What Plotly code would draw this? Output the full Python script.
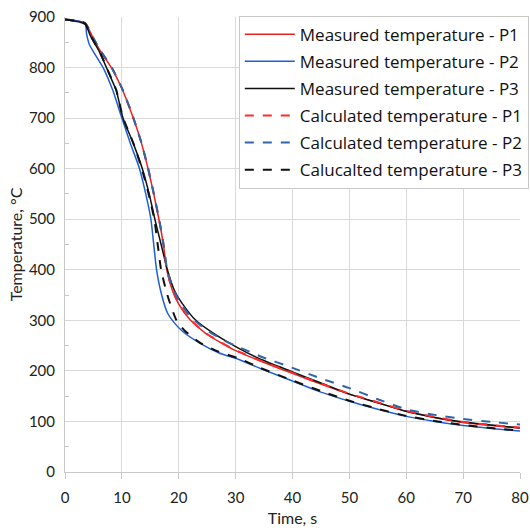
import plotly.graph_objects as go

# Measured temperature - P1
t_m1 = [0, 3.5, 5, 6.1, 8.3, 10.1, 12, 13.4, 14.6, 15.6, 16.6, 17.3, 17.9, 18.8, 20, 22, 25, 28, 30, 34, 40, 45, 50, 55, 60, 65, 70, 75, 80]
T_m1 = [895, 888, 857, 835, 797, 756, 700, 652, 600, 550, 495, 450, 400, 362, 332, 301, 272, 252, 240, 221, 195, 174, 154, 137, 120, 108, 98, 92, 87]
# Measured temperature - P2
t_m2 = [0, 3.5, 3.8, 4.3, 5.5, 6.7, 8.4, 10, 11.5, 13.1, 14.2, 15.1, 15.6, 16.1, 17, 18, 19.3, 20.7, 23.7, 27, 30.7, 34.3, 40, 45, 50, 55, 60, 65, 70, 75, 80]
T_m2 = [895, 888, 866, 845, 822, 800, 755, 700, 650, 600, 550, 500, 450, 400, 350, 315, 294, 278, 255, 236, 222, 205, 180, 158, 140, 124, 110, 100, 92, 86, 81]
# Measured temperature - P3
t_m3 = [0, 3.5, 4.5, 6.1, 7.9, 9, 10.2, 12, 13.6, 14.8, 15.8, 16.9, 18, 19.2, 20.5, 23, 26, 30, 34, 40, 45, 50, 55, 60, 65, 70, 75, 80]
T_m3 = [895, 886, 862, 830, 784, 755, 700, 650, 600, 550, 500, 450, 400, 360, 335, 300, 275, 248, 225, 198, 176, 154, 137, 120, 108, 99, 93, 87]
# Calculated temperature - P1
t_c1 = [0, 3.5, 5, 6.1, 8.3, 10.1, 12, 13.4, 14.6, 15.6, 16.6, 17.3, 17.9, 18.8, 20, 22, 25, 28, 30, 34, 40, 45, 50, 55, 60, 65, 70, 75, 80]
T_c1 = [895, 888, 858, 836, 798, 757, 701, 653, 601, 551, 496, 451, 401, 363, 333, 302, 273, 253, 241, 222, 196, 175, 155, 138, 121, 109, 99, 93, 88]
# Calculated temperature - P2
t_c2 = [0, 3.5, 5, 6.1, 8.3, 10.1, 12, 13.4, 14.6, 15.6, 16.6, 17.3, 17.9, 18.8, 20, 22, 25, 28, 30, 34.3, 40, 45, 50, 55, 60, 65, 70, 75, 80]
T_c2 = [895, 888, 858, 836, 798, 757, 701, 652, 601, 551, 497, 452, 405, 368, 340, 308, 280, 260, 250, 229, 206, 185, 166, 144, 124, 113, 105, 99, 94]
# Calucalted temperature - P3
t_c3 = [0, 3.5, 4.5, 6.1, 7.9, 9, 10.2, 12, 13.5, 14.7, 15.7, 16.3, 16.9, 18, 19.6, 21, 23.7, 27, 30.7, 34.3, 40, 45, 50, 55, 60, 65, 70, 75, 80]
T_c3 = [895, 887, 863, 831, 785, 756, 701, 651, 600, 550, 500, 450, 400, 350, 300, 280, 256, 238, 224, 206, 181, 160, 141, 125, 111, 101, 93, 87, 82]

names = ["Measured temperature - P1", "Measured temperature - P2", "Measured temperature - P3",
         "Calculated temperature - P1", "Calculated temperature - P2", "Calucalted temperature - P3"]

FONT = "Lato"
fig = go.Figure()
series = [
    (t_m1, T_m1, names[0], "#e8201f", "solid", 1.5),
    (t_m2, T_m2, names[1], "#1f5fd6", "solid", 1.5),
    (t_m3, T_m3, names[2], "#111111", "solid", 1.5),
    (t_c1, T_c1, names[3], "#ff2a2a", "dash", 2),
    (t_c2, T_c2, names[4], "#2f66a8", "dash", 2),
    (t_c3, T_c3, names[5], "#111111", "dash", 2),
]
for i, (x, y, n, c, d, w) in enumerate(series):
    fig.add_trace(go.Scatter(x=x, y=y, name=n, mode="lines", legendgroup=f"g{i}",
                             line=dict(color=c, dash=d, width=w, shape="spline", smoothing=0.6)))

fig.update_layout(
    width=530, height=530,
    margin=dict(l=65, r=9.5, t=17, b=58, autoexpand=False),
    paper_bgcolor="white", plot_bgcolor="white",
    font=dict(family=FONT, size=15, color="#222"),
    showlegend=True,
    legend=dict(x=0.382, y=1.003, xanchor="left", yanchor="top",
                bgcolor="white", bordercolor="#c8c8c8", borderwidth=1,
                font=dict(family="Open Sans", size=17, color="#111"),
                tracegroupgap=2, itemwidth=50),
)
fig.update_xaxes(range=[0, 80], dtick=10, showgrid=True, gridcolor="#d9d9d9", gridwidth=1,
                 showline=True, linecolor="#c8c8c8", linewidth=1, zeroline=False, automargin=False,
                 ticks="outside", ticklen=6, tickcolor="#c8c8c8", ticklabelstandoff=6,
                 title=dict(text="Time, s", font=dict(size=16), standoff=7),
                 tickfont=dict(size=15))
fig.update_yaxes(range=[0, 900], dtick=100, showgrid=True, gridcolor="#d9d9d9", gridwidth=1,
                 showline=True, linecolor="#c8c8c8", linewidth=1, zeroline=False, automargin=False,
                 ticks="", ticklabelstandoff=6,
                 minor=dict(dtick=50, ticks="inside", ticklen=4, tickcolor="#c8c8c8", showgrid=False),
                 title=dict(text="Temperature, °C", font=dict(size=16), standoff=2),
                 tickfont=dict(size=15))

fig.write_html("out.html")
